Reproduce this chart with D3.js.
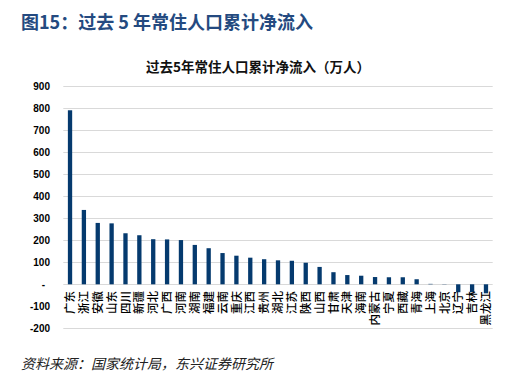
<!DOCTYPE html>
<html><head><meta charset="utf-8">
<script src="https://cdn.jsdelivr.net/npm/d3@7"></script>
<style>
html,body{margin:0;padding:0;background:#fff;}
svg{display:block;}
</style></head>
<body>
<script>
const provinces = ["广东","浙江","安徽","山东","四川","新疆","河北","广西","河南","湖南","福建","云南","重庆","江西","贵州","湖北","江苏","陕西","山西","甘肃","天津","海南","内蒙古","宁夏","西藏","青海","上海","北京","辽宁","吉林","黑龙江"];
const inflow = [791,338,279,277,232,223,205,204,201,179,164,142,130,121,114,109,107,98,79,55,42,39,33,32,32,23,2,1,-36,-36,-41];
const yTicks = [-200,-100,0,100,200,300,400,500,600,700,800,900];

const W = 508, H = 387;
const svg = d3.select("body").append("svg").attr("width", W).attr("height", H);

const cjk = "'Noto Sans CJK SC','Noto Sans',sans-serif";
const num = "'Liberation Sans',Arial,sans-serif";

svg.append("text").attr("x", 21).attr("y", 29)
  .attr("font-family", cjk).attr("font-weight", 700).attr("font-size", 18)
  .attr("fill", "#244a80").text("图15：过去 5 年常住人口累计净流入");

svg.append("text").attr("x", 258).attr("y", 71.5).attr("text-anchor", "middle")
  .attr("font-family", cjk).attr("font-weight", 700).attr("font-size", 13.5)
  .attr("fill", "#111").text("过去5年常住人口累计净流入（万人）");

const x = d3.scaleBand().domain(provinces).range([63.3, 492.7]).paddingInner(0.69).paddingOuter(0.33);
const y = d3.scaleLinear().domain([-200, 900]).range([328.3, 86.3]);

// gridlines
svg.append("g").selectAll("line").data(yTicks.filter(d => d !== -100)).join("line")
  .attr("x1", 63.3).attr("x2", 492.7)
  .attr("y1", d => Math.round(y(d)) + 0.5).attr("y2", d => Math.round(y(d)) + 0.5)
  .attr("stroke", "#d9d9d9").attr("stroke-width", 1);

// y axis labels
const yAxis = d3.axisLeft(y).tickValues(yTicks).tickSize(0).tickPadding(0)
  .tickFormat(d => d === 0 ? "-" : String(d));
const yg = svg.append("g").attr("transform", "translate(50,0)").call(yAxis);
yg.select(".domain").remove();
yg.selectAll("text").attr("font-family", num).attr("font-weight", 700)
  .attr("font-size", 10).attr("fill", "#000")
  .attr("dx", d => d === 0 ? -5 : 0);

// bars
svg.append("g").selectAll("rect").data(provinces).join("rect")
  .attr("x", d => x(d)).attr("width", x.bandwidth())
  .attr("y", (d, i) => y(Math.max(0, inflow[i])))
  .attr("height", (d, i) => Math.abs(y(inflow[i]) - y(0)))
  .attr("fill", "#053a6e");

// x labels
svg.append("g").selectAll("text").data(provinces).join("text")
  .attr("transform", d => `translate(${x(d) + x.bandwidth() / 2},291) rotate(-90)`)
  .attr("text-anchor", "end").attr("dy", "0.36em")
  .attr("font-family", cjk).attr("font-weight", 500).attr("font-size", 11.5)
  .attr("fill", "#000").text(d => d);

svg.append("text").attr("x", 21).attr("y", 369)
  .attr("font-family", cjk).attr("font-style", "italic").attr("font-size", 14)
  .attr("fill", "#222").text("资料来源：国家统计局，东兴证券研究所");
</script>
</body></html>
